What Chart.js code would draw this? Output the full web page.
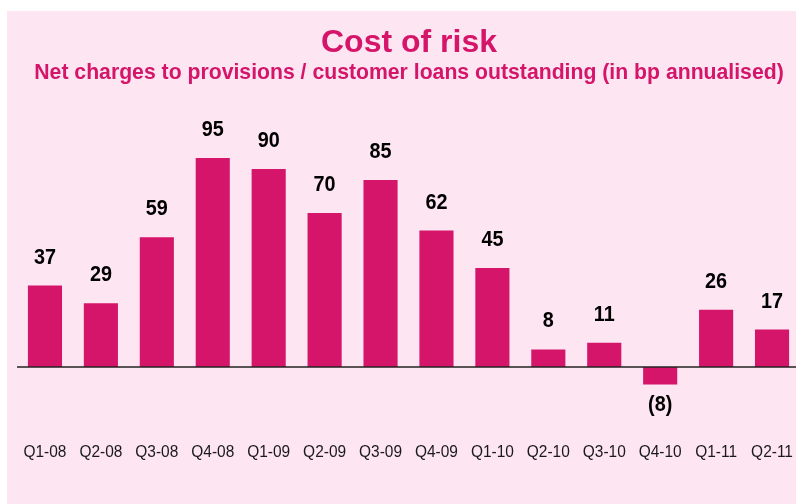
<!DOCTYPE html>
<html>
<head>
<meta charset="utf-8">
<script src="https://cdn.jsdelivr.net/npm/chart.js@4.4.1/dist/chart.umd.min.js"></script>
<style>
  html, body { margin: 0; padding: 0; background: #ffffff; overflow: hidden; }
  #wrap {
    position: absolute; left: 7px; top: 11px;
    width: 789px; height: 493px;
    background: #fde5f2; overflow: hidden;
  }
  #chart { display: block; }
</style>
</head>
<body>
<div id="wrap"><canvas id="chart" width="800" height="493"></canvas></div>
<script>
// quarterly cost of risk, bp annualised
const quarters = ['Q1-08', 'Q2-08', 'Q3-08', 'Q4-08', 'Q1-09', 'Q2-09', 'Q3-09',
                  'Q4-09', 'Q1-10', 'Q2-10', 'Q3-10', 'Q4-10', 'Q1-11', 'Q2-11'];
const costOfRisk = [37, 29, 59, 95, 90, 70, 85, 62, 45, 8, 11, -8, 26, 17];

const titleText = 'Cost of risk';
const subtitleText = 'Net charges to provisions / customer loans outstanding (in bp annualised)';

const MAGENTA = '#d5156a';
const FONT = "'Liberation Sans', Arial, Helvetica, sans-serif";

// draws narrowed text (source chart uses a condensed face)
function narrowText(ctx, text, x, y, sx) {
  ctx.save();
  ctx.translate(x, y);
  ctx.scale(sx, 1);
  ctx.fillText(text, 0, 0);
  ctx.restore();
}

// titles, zero line, value labels and category labels
const decorPlugin = {
  id: 'decor',
  afterDatasetsDraw(chart) {
    const ctx = chart.ctx;
    const area = chart.chartArea;
    const xs = chart.scales.x;
    const y0 = chart.scales.y.getPixelForValue(0);
    const cx = 402;

    ctx.save();
    ctx.textAlign = 'center';
    ctx.textBaseline = 'alphabetic';
    ctx.fillStyle = MAGENTA;
    ctx.font = "bold 32px " + FONT;
    ctx.fillText(titleText, cx, 41);
    ctx.font = "bold 22px " + FONT;
    narrowText(ctx, subtitleText, cx, 68, 0.964);

    ctx.strokeStyle = '#222222';
    ctx.lineWidth = 1.5;
    ctx.beginPath();
    ctx.moveTo(area.left, y0);
    ctx.lineTo(chart.width, y0);
    ctx.stroke();

    ctx.fillStyle = '#000000';
    ctx.font = "bold 22px " + FONT;
    ctx.textBaseline = 'middle';
    chart.getDatasetMeta(0).data.forEach((bar, i) => {
      const v = costOfRisk[i];
      if (v >= 0) {
        narrowText(ctx, String(v), bar.x, bar.y - 28, 0.9);
      } else {
        narrowText(ctx, '(' + Math.abs(v) + ')', bar.x, bar.y + 20, 0.9);
      }
    });

    ctx.fillStyle = '#1a1a1a';
    ctx.font = "17px " + FONT;
    quarters.forEach((q, i) => {
      narrowText(ctx, q, xs.getPixelForValue(i), 441, 0.91);
    });
    ctx.restore();
  }
};

new Chart(document.getElementById('chart'), {
  type: 'bar',
  data: {
    labels: quarters,
    datasets: [{
      data: costOfRisk,
      backgroundColor: MAGENTA,
      borderWidth: 0,
      barPercentage: 0.61,
      categoryPercentage: 1.0
    }]
  },
  options: {
    responsive: false,
    animation: false,
    layout: { padding: { left: 10, right: 7, top: 92, bottom: 93 } },
    scales: {
      x: { display: false },
      y: { display: false, min: -20, max: 120 }
    },
    plugins: {
      legend: { display: false },
      tooltip: { enabled: false },
      title: { display: false }
    }
  },
  plugins: [decorPlugin]
});
</script>
</body>
</html>
